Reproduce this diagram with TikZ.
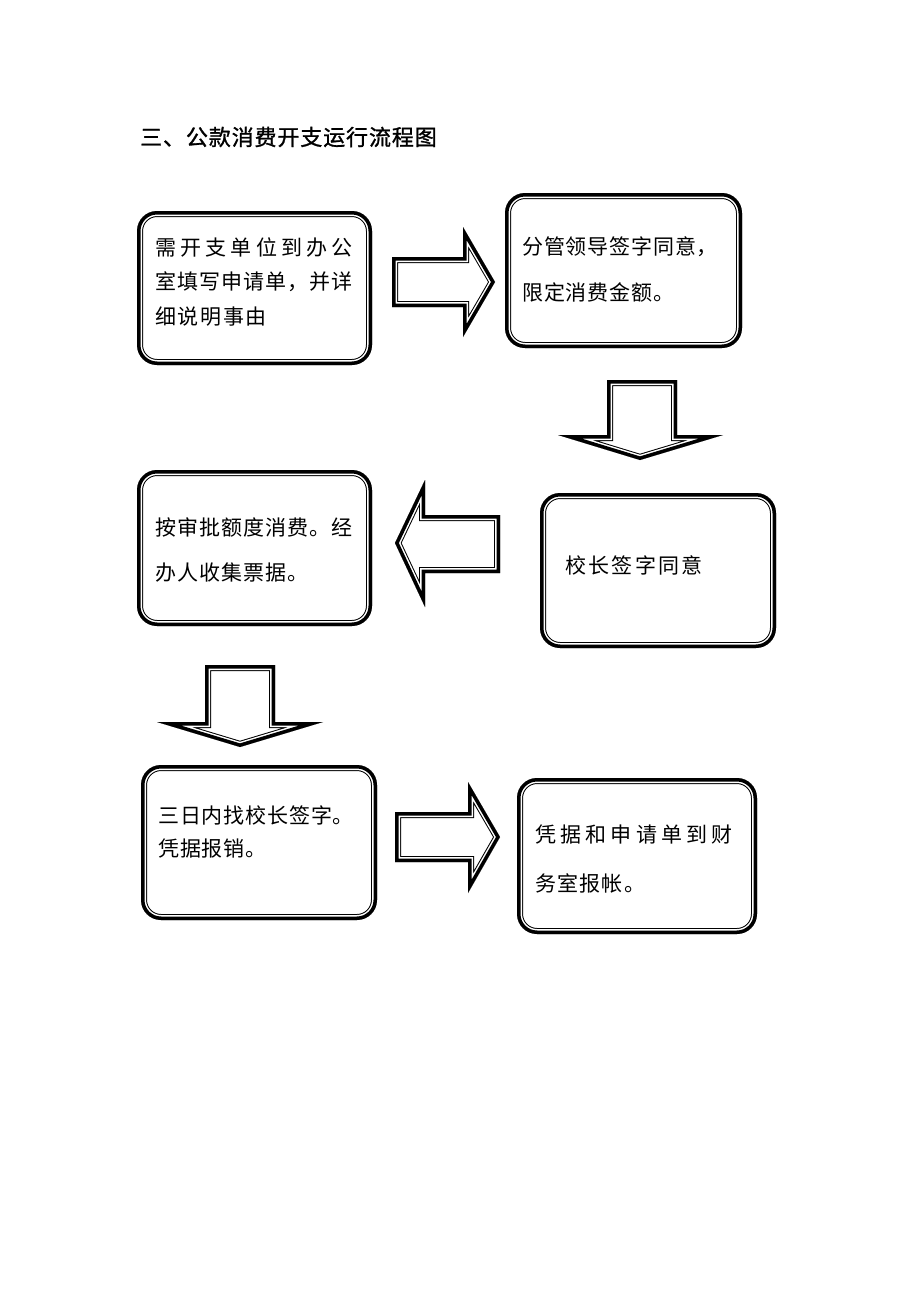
\documentclass[tikz,border=0pt]{standalone}
\usepackage{fontspec}
\newfontfamily\cjk{Noto Sans CJK SC}
\newfontfamily\cjkb[FakeBold=1.2]{Noto Sans CJK SC}
\newcommand\dblpath[2]{%
  \begin{scope}[#1]
    \clip #2;
    \fill[white] #2;
    \draw[line width=12] #2;
    \draw[white,line width=10] #2;
    \draw[line width=7] #2;
  \end{scope}}
\tikzset{
  txt/.style={anchor=west,inner sep=0pt,font=\cjk\fontsize{21}{21}\selectfont\addfontfeature{LetterSpace=#1}},
  txt/.default=4,
  ttl/.style={anchor=west,inner sep=0pt,font=\cjkb\fontsize{22}{22}\selectfont\addfontfeature{LetterSpace=4}},
  bx/.style={rounded corners=20pt,line join=round},
  ar/.style={line join=miter,miter limit=20}
}
\begin{document}
\begin{tikzpicture}[x=1pt,y=-1pt]
\useasboundingbox (0,0) rectangle (920,1302);
% title
\node[ttl] (title) at (140,137) {三、公款消费开支运行流程图};
% boxes
\dblpath{bx}{(137,211) rectangle (372,365)}
\dblpath{bx}{(505,193) rectangle (742,348)}
\dblpath{bx}{(137,470) rectangle (372,626)}
\dblpath{bx}{(540,493) rectangle (776,648)}
\dblpath{bx}{(141,765) rectangle (377,920)}
\dblpath{bx}{(517,778) rectangle (757,934)}
% block arrows
\dblpath{ar}{(392,257) -- (463,257) -- (463,227) -- (495,282) -- (463,337) -- (463,307) -- (392,307) -- cycle}
\dblpath{ar}{(607,380) -- (677,380) -- (677,435) -- (723,435) -- (640,460) -- (558,435) -- (607,435) -- cycle}
\dblpath{ar}{(500,515) -- (425,515) -- (425,480) -- (395,543) -- (425,607) -- (425,573) -- (500,573) -- cycle}
\dblpath{ar}{(205,665) -- (275,665) -- (275,722) -- (323,722) -- (240,747) -- (157,722) -- (205,722) -- cycle}
\dblpath{ar}{(395,812) -- (468,812) -- (468,782) -- (500,837) -- (468,893) -- (468,862) -- (395,862) -- cycle}
% texts
\node[txt=20] (t1a) at (155,247) {需开支单位到办公};
\node[txt=5] (t1b) at (155,282) {室填写申请单，并详};
\node[txt=8] (t1c) at (155,317) {细说明事由};
\node[txt=4] (t2a) at (522,247) {分管领导签字同意，};
\node[txt=4] (t2b) at (522,292) {限定消费金额。};
\node[txt=5] (t3a) at (155,527) {按审批额度消费。经};
\node[txt=5] (t3b) at (155,573) {办人收集票据。};
\node[txt=11] (t4) at (565,565) {校长签字同意};
\node[txt=4] (t5a) at (158,815) {三日内找校长签字。};
\node[txt=4] (t5b) at (158,849) {凭据报销。};
\node[txt=20] (t6a) at (535,834) {凭据和申请单到财};
\node[txt=6] (t6b) at (535,883) {务室报帐。};
\end{tikzpicture}
\end{document}
